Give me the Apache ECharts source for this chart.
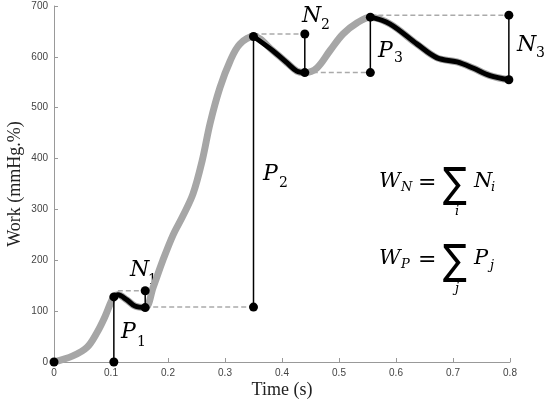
<!DOCTYPE html>
<html>
<head>
<meta charset="utf-8">
<script src="https://cdn.jsdelivr.net/npm/echarts@6/dist/echarts.min.js"></script>
<style>
  html, body { margin: 0; padding: 0; background: #fff; }
  #chart { width: 552px; height: 401px; }
</style>
</head>
<body>
<div id="chart"></div>
<script>
// work curve, time (s) vs work (mmHg.%)
const workCurve = [
  [0, 0], [0.033, 12], [0.058, 29], [0.075, 57], [0.089, 88], [0.1, 118], [0.105, 128],
  [0.112, 132], [0.128, 122], [0.142, 110], [0.16, 107],
  [0.174, 147], [0.191, 200], [0.209, 250], [0.226, 287], [0.244, 331], [0.26, 396],
  [0.274, 470], [0.291, 539], [0.309, 592], [0.326, 625], [0.35, 640],
  [0.384, 612], [0.409, 588], [0.426, 572], [0.44, 569],
  [0.461, 578], [0.484, 612], [0.507, 645], [0.532, 667], [0.555, 678],
  [0.589, 665], [0.637, 625], [0.672, 598], [0.707, 590], [0.735, 578], [0.765, 563], [0.798, 555]
]
// falling parts (negative work)
const fallN1 = [[0.105, 128], [0.112, 132], [0.128, 122], [0.142, 110], [0.16, 107]]
const fallN2 = [[0.35, 640], [0.384, 612], [0.409, 588], [0.426, 572], [0.44, 569]]
const fallN3 = [[0.555, 678], [0.589, 665], [0.637, 625], [0.672, 598], [0.707, 590], [0.735, 578], [0.765, 563], [0.798, 555]]

// vertical bars (x, low, high)
const bars = [
  [0.105, 0, 128],   // P1
  [0.16, 107, 140],  // N1
  [0.35, 108, 640],  // P2
  [0.44, 569, 645],  // N2
  [0.555, 569, 678], // P3
  [0.798, 555, 682]  // N3
]
// dashed guides (x0, x1, y)
const guides = [
  [0.112, 0.16, 140],
  [0.16, 0.35, 108],
  [0.35, 0.44, 645],
  [0.44, 0.555, 569],
  [0.555, 0.798, 682]
]
const xTicks = ['0', '0.1', '0.2', '0.3', '0.4', '0.5', '0.6', '0.7', '0.8']

const chart = echarts.init(document.getElementById('chart'))

const barLines = []
const dots = [[0, 0]]
bars.forEach(b => {
  barLines.push([b[0], b[1]], [b[0], b[2]], null)
  dots.push([b[0], b[1]], [b[0], b[2]])
})
const guideLines = []
guides.forEach(g => { guideLines.push([g[0], g[2]], [g[1], g[2]], null) })

const mathFont = '"DejaVu Serif"'
function txt (text, x, y, size, italic) {
  return {
    type: 'text',
    x: x,
    y: y,
    style: {
      text: text,
      fontFamily: mathFont,
      fontSize: size,
      fontStyle: italic ? 'italic' : 'normal',
      fill: '#000',
      verticalAlign: 'middle'
    }
  }
}
function sigma (x, y) {
  return {
    type: 'text',
    x: x,
    y: y,
    scaleX: 0.85,
    style: { text: '∑', fontFamily: '"DejaVu Sans"', fontSize: 42, fill: '#000', verticalAlign: 'middle' }
  }
}
function blackLine (data) {
  return {
    type: 'line',
    data: data,
    smooth: 0.35,
    showSymbol: false,
    lineStyle: { color: '#000', width: 5 },
    z: 3
  }
}

const option = {
  animation: false,
  grid: { left: 54, right: 42, top: 6, bottom: 39, outerBoundsMode: 'none' },
  xAxis: {
    type: 'value',
    min: 0,
    max: 0.8,
    interval: 0.1,
    name: 'Time (s)',
    nameLocation: 'middle',
    nameGap: 19,
    nameMoveOverlap: false,
    nameTextStyle: { fontFamily: '"Liberation Serif"', fontSize: 18, color: '#222' },
    axisLine: { lineStyle: { color: '#999' } },
    axisTick: { inside: true, length: 4, lineStyle: { color: '#999' } },
    axisLabel: {
      fontSize: 10,
      color: '#444',
      fontFamily: '"Liberation Sans"',
      margin: 6,
      formatter: v => xTicks[Math.round(v * 10)]
    },
    splitLine: { show: false }
  },
  yAxis: {
    type: 'value',
    min: 0,
    max: 700,
    interval: 100,
    name: 'Work (mmHg.%)',
    nameLocation: 'middle',
    nameGap: 30,
    nameMoveOverlap: false,
    nameTextStyle: { fontFamily: '"Liberation Serif"', fontSize: 18, color: '#222' },
    axisLine: { show: true, lineStyle: { color: '#999' } },
    axisTick: { show: true, inside: true, length: 4, lineStyle: { color: '#999' } },
    axisLabel: { fontSize: 10, color: '#444', fontFamily: '"Liberation Sans"', margin: 6 },
    splitLine: { show: false }
  },
  series: [
    {
      type: 'line',
      data: workCurve,
      smooth: 0.35,
      showSymbol: false,
      lineStyle: { color: '#a6a6a6', width: 7 },
      z: 2
    },
    blackLine(fallN1),
    blackLine(fallN2),
    blackLine(fallN3),
    {
      type: 'line',
      data: guideLines,
      connectNulls: false,
      showSymbol: false,
      lineStyle: { color: '#aaa', width: 1.5, type: [5, 3] },
      z: 1
    },
    {
      type: 'line',
      data: barLines,
      connectNulls: false,
      showSymbol: false,
      lineStyle: { color: '#000', width: 1.5 },
      z: 4
    },
    {
      type: 'scatter',
      data: dots,
      symbolSize: 9,
      itemStyle: { color: '#000', opacity: 1 },
      z: 5
    }
  ],
  graphic: [
    txt('N', 130, 270, 22, true), txt('1', 148, 280, 14, false),
    txt('P', 121, 332, 22, true), txt('1', 137, 342, 14, false),
    txt('P', 263, 174, 22, true), txt('2', 279, 183, 14, false),
    txt('N', 302, 16, 22, true), txt('2', 321, 25, 14, false),
    txt('P', 378, 51, 22, true), txt('3', 394, 58, 14, false),
    txt('N', 517, 45, 22, true), txt('3', 536, 53, 14, false),
    // W_N = sum_i N_i
    txt('W', 379, 182, 21, true), txt('N', 401, 188, 13, true),
    txt('=', 418, 183, 22, false),
    sigma(443, 186),
    txt('i', 455, 212, 13, true),
    txt('N', 474, 182, 21, true), txt('i', 491, 188, 13, true),
    // W_P = sum_j P_j
    txt('W', 379, 259, 21, true), txt('P', 401, 265, 13, true),
    txt('=', 418, 260, 22, false),
    sigma(443, 263),
    txt('j', 455, 289, 13, true),
    txt('P', 474, 259, 21, true), txt('j', 490, 266, 13, true)
  ]
}

chart.setOption(option)
</script>
</body>
</html>
